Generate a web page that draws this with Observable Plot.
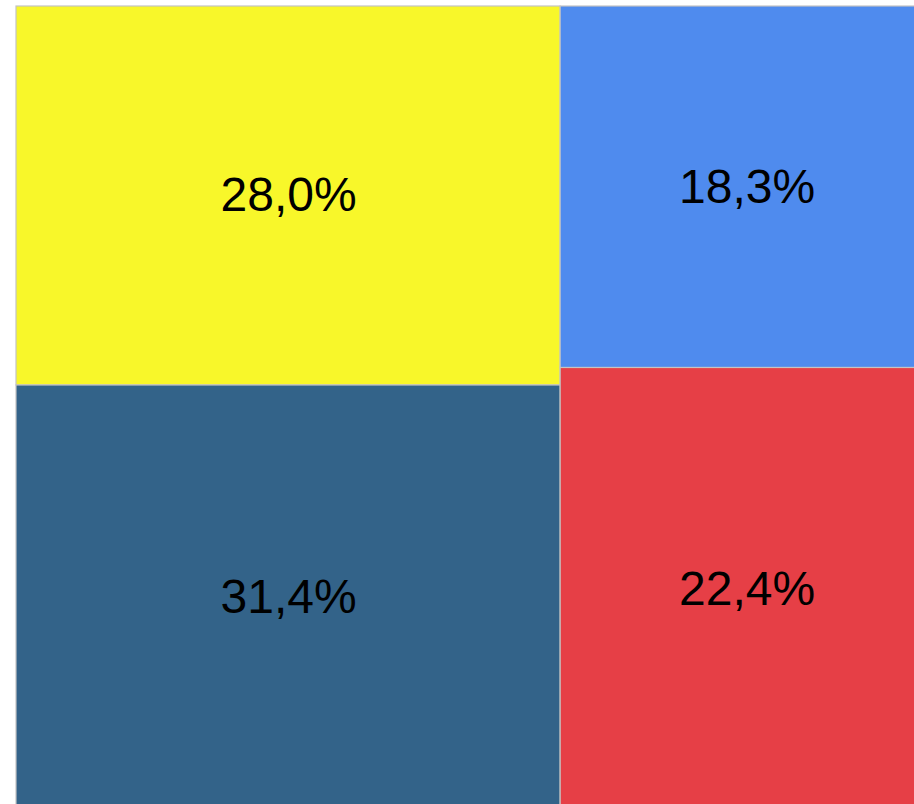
<!DOCTYPE html>
<html>
<head>
<meta charset="utf-8">
<script src="https://cdn.jsdelivr.net/npm/d3@7"></script>
<script src="https://cdn.jsdelivr.net/npm/@observablehq/plot@0.6"></script>
<style>
  html, body { margin: 0; padding: 0; background: #fff; }
</style>
</head>
<body>
<div id="chart"></div>
<script>
// Data
const groups = ["A", "A", "B", "B"];
const labels = ["28,0%", "31,4%", "18,3%", "22,4%"];
const values = [28.0, 31.4, 18.3, 22.4];
const colors = ["#f8f72a", "#336389", "#4f8bee", "#e63f46"];

// Build hierarchy: columns (groups) diced horizontally, cells sliced vertically
const tree = {
  name: "root",
  children: Array.from(new Set(groups)).map(g => ({
    name: g,
    children: values.map((v, i) => ({i, value: v})).filter(d => groups[d.i] === g)
  }))
};
const root = d3.hierarchy(tree).sum(d => d.value ?? 0);
d3.treemap().tile(d3.treemapSliceDice).size([1, 1]).round(false)(root);
const cells = root.leaves().map(n => ({
  x0: n.x0, x1: n.x1, y0: n.y0, y1: n.y1,
  label: labels[n.data.i], color: colors[n.data.i]
}));

const chart = Plot.plot({
  width: 914,
  height: 804,
  margin: 0,
  style: {fontFamily: "'Liberation Sans', Arial, sans-serif", background: "#fff", overflow: "visible"},
  x: {domain: [0, 1], range: [16, 933], axis: null},
  y: {domain: [0, 1], range: [6, 810], axis: null},
  marks: [
    Plot.rect(cells, {
      x1: "x0", x2: "x1", y1: "y0", y2: "y1",
      fill: d => d.color,
      stroke: "#c4c4c4",
      strokeWidth: 1.2
    }),
    Plot.text(cells, {
      x: d => (d.x0 + d.x1) / 2,
      y: d => (d.y0 + d.y1) / 2,
      text: "label",
      fill: "#000",
      fontSize: 48
    })
  ]
});
document.getElementById("chart").appendChild(chart);
</script>
</body>
</html>
